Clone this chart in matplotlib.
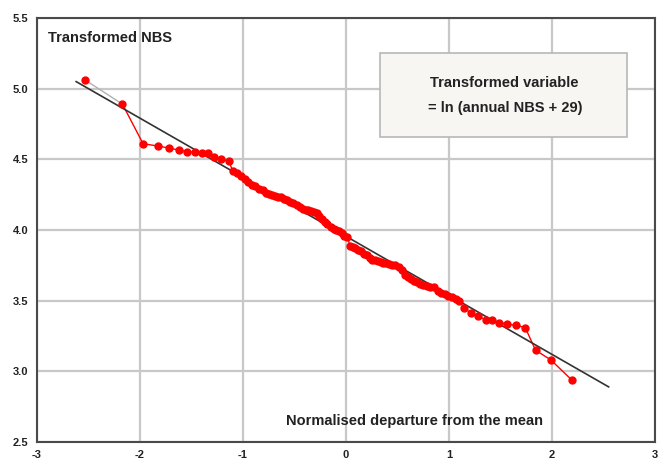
import matplotlib
matplotlib.use("Agg")
import matplotlib.pyplot as plt
from matplotlib.patches import Rectangle

plt.rcParams['font.family'] = ['Liberation Sans', 'DejaVu Sans']

# Normal scores (x) and transformed NBS values (y)
x_vals = [-2.53, -2.17, -1.97, -1.83, -1.72, -1.62, -1.54, -1.47, -1.40, -1.34,
          -1.28, -1.21, -1.14,
          -1.10, -1.06, -1.02, -0.98, -0.95, -0.91, -0.88, -0.84, -0.81, -0.78,
          -0.75, -0.72, -0.69, -0.66, -0.63, -0.60, -0.57, -0.54, -0.51, -0.48,
          -0.45, -0.42, -0.39, -0.37, -0.34, -0.31, -0.28, -0.26, -0.23, -0.20,
          -0.18, -0.15, -0.12, -0.10, -0.07, -0.04, -0.02, 0.01,
          0.04, 0.07, 0.09, 0.12, 0.15, 0.17, 0.20, 0.23, 0.25, 0.28, 0.31, 0.34,
          0.36, 0.39, 0.42, 0.45, 0.48, 0.51, 0.54, 0.57, 0.60, 0.63, 0.66, 0.69,
          0.72, 0.75, 0.79, 0.82, 0.85, 0.89, 0.92, 0.96, 0.99, 1.03, 1.07, 1.10,
          1.15, 1.21, 1.28, 1.36, 1.42, 1.49, 1.56, 1.65, 1.74, 1.84, 1.99, 2.19]
y_vals = [5.06, 4.89, 4.61, 4.595, 4.58, 4.565, 4.555, 4.55, 4.548, 4.545,
          4.52, 4.50, 4.49,
          4.42, 4.40, 4.38, 4.36, 4.34, 4.32, 4.31, 4.29, 4.28, 4.26,
          4.255, 4.25, 4.24, 4.235, 4.23, 4.22, 4.21, 4.20, 4.19, 4.175,
          4.16, 4.15, 4.145, 4.14, 4.135, 4.13, 4.12, 4.10, 4.08, 4.06,
          4.04, 4.02, 4.01, 4.00, 3.99, 3.98, 3.96, 3.95,
          3.89, 3.88, 3.87, 3.86, 3.85, 3.83, 3.82, 3.80, 3.79, 3.785, 3.78, 3.775,
          3.77, 3.765, 3.76, 3.755, 3.75, 3.74, 3.72, 3.68, 3.665, 3.65, 3.64, 3.63,
          3.62, 3.61, 3.605, 3.60, 3.595, 3.57, 3.555, 3.545, 3.535, 3.525, 3.51, 3.50,
          3.445, 3.415, 3.39, 3.365, 3.36, 3.345, 3.335, 3.325, 3.31, 3.15, 3.08, 2.94]

# Fitted straight line end points
fit_x = [-2.62, 2.55]
fit_y = [5.05, 2.89]

x_ticks = [-3, -2, -1, 0, 1, 2, 3]
y_ticks = [2.5, 3.0, 3.5, 4.0, 4.5, 5.0, 5.5]

fig = plt.figure(figsize=(6.59, 4.61), dpi=100)
ax = fig.add_axes([37/659, 1 - 442/461, (655 - 37)/659, (442 - 18)/461])
ax.set_xlim(-3, 3)
ax.set_ylim(2.5, 5.5)
ax.set_xticks(x_ticks)
ax.set_yticks(y_ticks)
ax.set_xticklabels([str(t) for t in x_ticks])
ax.set_yticklabels([f"{t:.1f}" for t in y_ticks])
ax.tick_params(length=0, labelsize=8, colors='#222222', pad=6)
for lab in ax.get_xticklabels() + ax.get_yticklabels():
    lab.set_fontweight('bold')
ax.grid(True, color='#c8c8c8', lw=1.6, zorder=0)
for s in ax.spines.values():
    s.set_color('#4a4a4a')
    s.set_linewidth(1.5)

ax.plot(fit_x, fit_y, color='#333333', lw=1.2, zorder=3)
ax.plot(x_vals[:2], y_vals[:2], color='#b0b0b0', lw=1.0, zorder=2)
ax.plot(x_vals[1:], y_vals[1:], color='#ff0000', lw=1.0, zorder=2)
ax.plot(x_vals, y_vals, 'o', color='#ff0000', ms=5.0, mec='#ff0000', zorder=4)

ax.text(48/659, 1 - 38/461, "Transformed NBS", transform=fig.transFigure,
        fontsize=10.5, fontweight='bold', color='#222222', va='center', ha='left')
ax.text(414/659, 1 - 421/461, "Normalised departure from the mean",
        transform=fig.transFigure, fontsize=10.5, fontweight='bold',
        color='#222222', va='center', ha='center')

box = Rectangle((380/659, 1 - 137/461), (627 - 380)/659, (137 - 53)/461,
                transform=fig.transFigure, facecolor='#f8f6f2',
                edgecolor='#b8b8b8', lw=1.2, zorder=5)
fig.add_artist(box)
fig.text(504/659, 1 - 83/461, "Transformed variable", fontsize=10.5,
         fontweight='bold', color='#222222', ha='center', va='center', zorder=6)
fig.text(505/659, 1 - 108/461, "= ln (annual NBS + 29)", fontsize=10.5,
         fontweight='bold', color='#222222', ha='center', va='center', zorder=6)

fig.savefig("out.png", dpi=100)
